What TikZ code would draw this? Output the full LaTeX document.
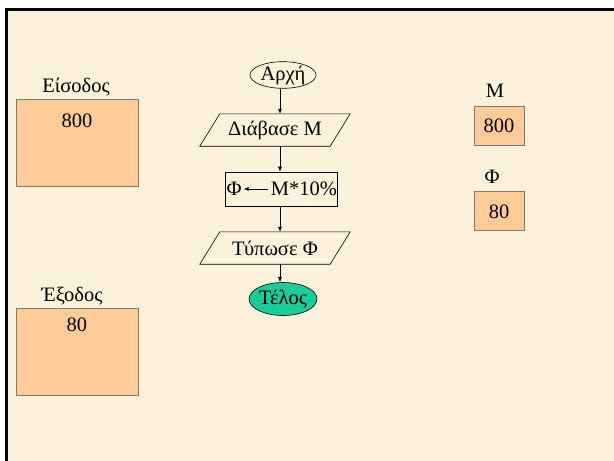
\documentclass[tikz,border=0pt]{standalone}
\usepackage{fontspec}
\setmainfont{Liberation Serif}
\usetikzlibrary{shapes.geometric,arrows.meta}
\definecolor{paper}{HTML}{FCF1DA}
\definecolor{peach}{HTML}{FFCC99}
\definecolor{boxline}{HTML}{86796C}
\definecolor{endfill}{HTML}{1DCA9A}
\begin{document}
\begin{tikzpicture}[x=1pt,y=-1pt,
  txt/.style={font=\fontsize{20.5}{24}\selectfont, inner sep=0pt},
  membox/.style={draw=boxline, line width=0.8pt, fill=peach},
  term/.style={ellipse, draw, line width=0.6pt, inner sep=0pt, txt},
  iobox/.style={rectangle, inner sep=0pt, minimum width=130pt, minimum height=32pt, txt},
  slant/.style={draw, line width=0.6pt},
  procbox/.style={rectangle, draw, line width=0.6pt, minimum width=112pt, minimum height=34pt},
  flow/.style={-{Latex[length=5pt,width=4pt]}, line width=0.6pt}]
  \useasboundingbox (0,0) rectangle (614,461);
  % page background and frame
  \fill[white] (0,0) rectangle (614,461);
  \fill[paper] (6,9) rectangle (614,461);
  \draw[line width=3pt] (4.5,9) -- (614,9);
  \draw[line width=3pt] (6,7.5) -- (6,461);

  % input / output panels
  \node[txt] (inlabel) at (76,87) {Είσοδος};
  \draw[membox] (16,99) rectangle (138,186);
  \node[txt] (inval) at (77,121) {800};
  \node[txt] (outlabel) at (72,296) {Έξοδος};
  \draw[membox] (16,308) rectangle (138,395);
  \node[txt] (outval) at (77,325) {80};

  % variables
  \node[txt] (mlabel) at (495,91) {Μ};
  \draw[membox] (474,106) rectangle (524,145);
  \node[txt] (mval) at (499,126) {800};
  \node[txt] (flabel) at (492,177) {Φ};
  \draw[membox] (474,191) rectangle (524,230);
  \node[txt] (fval) at (499,212) {80};

  % flowchart
  \node[term, minimum width=66pt, minimum height=25pt] (start) at (283,75) {Αρχή};
  \node[iobox] (read) at (275,130) {Διάβασε Μ};
  \draw[slant] ([xshift=10pt]read.north west) -- ([xshift=10pt]read.north east)
     -- ([xshift=-10pt]read.south east) -- ([xshift=-10pt]read.south west) -- cycle;
  \node[procbox] (calc) at (281,189) {};
  \node[txt] (phi) at (234,189) {Φ};
  \node[txt] (expr) at (304,189) {Μ*10\%};
  \node[iobox] (print) at (275,248) {Τύπωσε Φ};
  \draw[slant] ([xshift=10pt]print.north west) -- ([xshift=10pt]print.north east)
     -- ([xshift=-10pt]print.south east) -- ([xshift=-10pt]print.south west) -- cycle;
  \node[term, fill=endfill, minimum width=67pt, minimum height=33pt] (stop) at (283,299) {Τέλος};

  \draw[flow] (start.south -| 280,0) -- (read.north -| 280,0);
  \draw[flow] (read.south -| 280,0) -- (calc.north -| 280,0);
  \draw[flow] (calc.south -| 280,0) -- (print.north -| 280,0);
  \draw[flow] (print.south -| 280,0) -- (stop.north -| 280,0);
  \draw[flow] ([xshift=-3pt]expr.west) -- ([xshift=2pt]phi.east);
\end{tikzpicture}
\end{document}
